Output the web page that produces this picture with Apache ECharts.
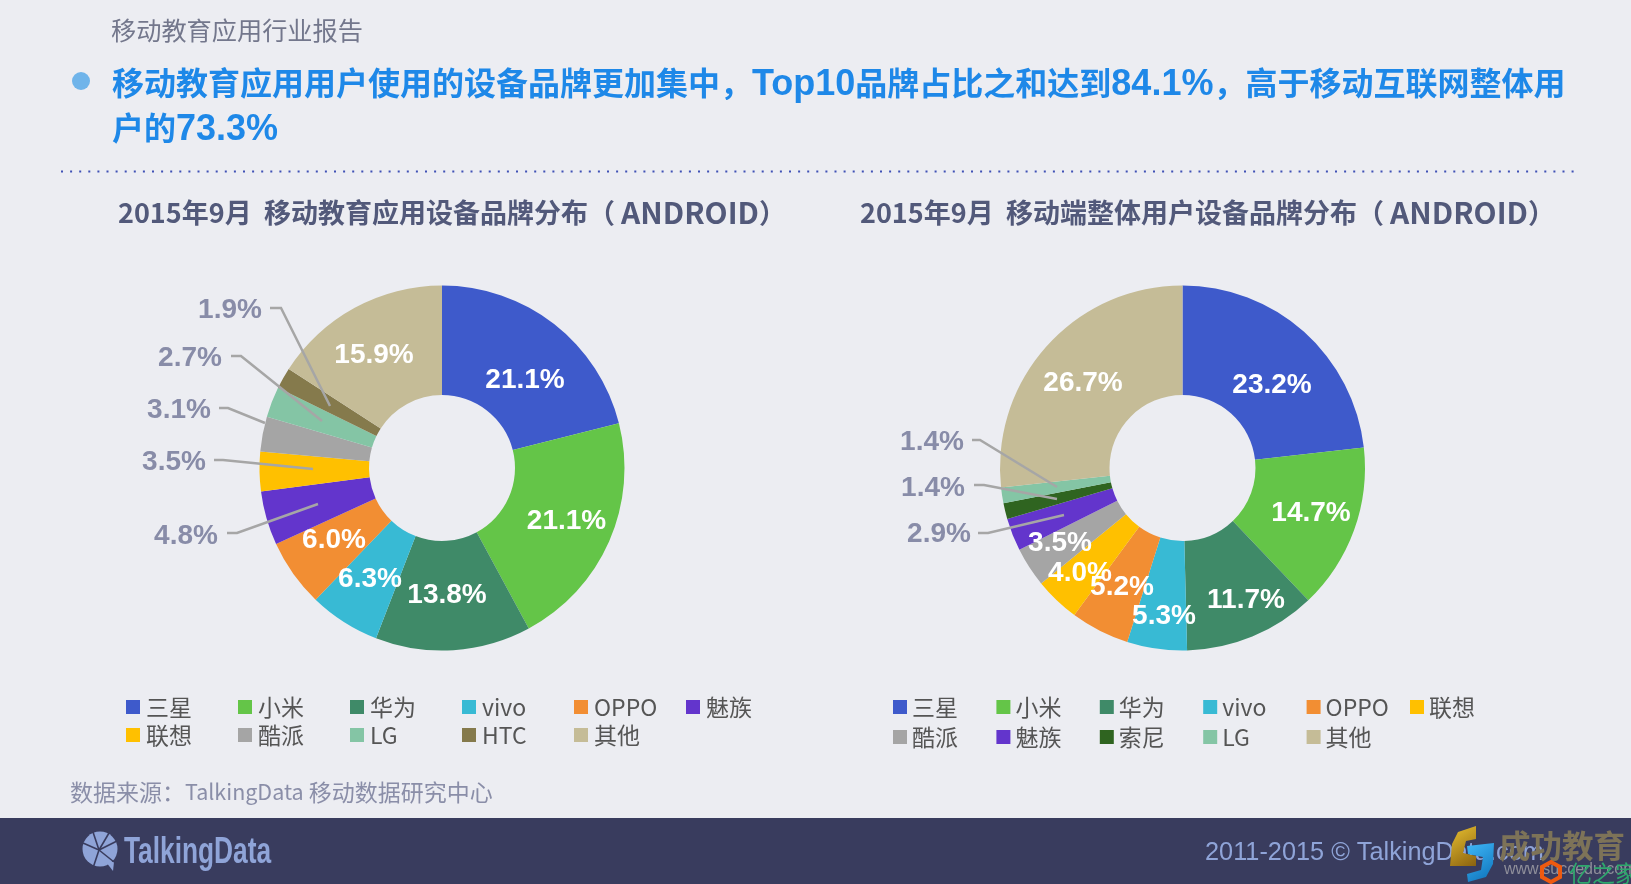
<!DOCTYPE html>
<html><head><meta charset="utf-8">
<style>html,body{margin:0;padding:0;background:#ECEDF2}#c{width:1631px;height:884px}</style>
<script src="https://cdn.jsdelivr.net/npm/echarts@6/dist/echarts.min.js"></script>
</head><body><div id="c"></div>
<script>
// ---- data ----
const reportName = '移动教育应用行业报告';
const headlineLines = ['移动教育应用用户使用的设备品牌更加集中，Top10品牌占比之和达到84.1%，高于移动互联网整体用','户的73.3%'];
const leftTitle = '2015年9月  移动教育应用设备品牌分布（ ANDROID）';
const rightTitle = '2015年9月  移动端整体用户设备品牌分布（ ANDROID）';
const sourceNote = '数据来源：TalkingData 移动数据研究中心';
const leftBrands = ['三星','小米','华为','vivo','OPPO','魅族','联想','酷派','LG','HTC','其他'];
const leftValues = [21.1,21.1,13.8,6.3,6.0,4.8,3.5,3.1,2.7,1.9,15.9];
const rightBrands = ['三星','小米','华为','vivo','OPPO','联想','酷派','魅族','索尼','LG','其他'];
const rightValues = [23.2,14.7,11.7,5.3,5.2,4.0,3.5,2.9,1.4,1.4,26.7];

// ---- styles & layout ----
const brandColor = {'三星':'#3E5ACB','小米':'#64C548','华为':'#3F8A68','vivo':'#38BAD4','OPPO':'#F28E33','魅族':'#6335CC','联想':'#FFC000','酷派':'#A5A5A5','LG':'#84C5A5','HTC':'#857A4C','索尼':'#2F6420','其他':'#C5BC97'};
const CJK = '"Noto Sans CJK SC"';
const LATIN = '"Liberation Sans","Noto Sans CJK SC"';
// label centre [x,y] and optional leader polyline
const leftLabels = [
 [[525,380]],[[566.5,521]],[[447,595]],[[370,579]],[[334,540]],
 [[186,536],[[227,533],[237,533],[318,504]]],
 [[174,462],[[214,460],[223,460],[313,469]]],
 [[179,410],[[219,408],[228,408],[265,423]]],
 [[190,358],[[231,356],[241,356],[322,421]]],
 [[230,310],[[270,308],[281,308],[330,406]]],
 [[374,355]]
];
const rightLabels = [
 [[1272,385]],[[1311,513]],[[1246,600]],[[1164,616]],[[1122,587]],[[1080,573]],[[1060,543]],
 [[939,534],[[978,533],[988,533],[1064,515]]],
 [[933,488],[[974,485],[984,485],[1057,499]]],
 [[932,442],[[972,440],[980,440],[1057,487]]],
 [[1083,383]]
];
function pie(names, values, cx, layout){
  return {
    type:'pie', center:[cx,468], radius:[73,182.5], startAngle:90, silent:true, animation:false,
    avoidLabelOverlap:false,
    data:names.map((n,i)=>({
      name:n, value:values[i],
      itemStyle:{color:brandColor[n]},
      label:{color:layout[i][1]?'#888CA8':'#fff'}
    })),
    labelLine:{show:false},
    label:{show:true,position:'outside',fontFamily:LATIN,fontWeight:'bold',fontSize:28,
      formatter:p=>p.value.toFixed(1)+'%'},
    labelLayout:p=>{
      const l=layout[p.dataIndex];
      return {x:l[0][0],y:l[0][1],align:'center',verticalAlign:'middle'};
    }
  };
}
function legend(names,left,top,w,lineH,pad){
  return {data:names.map(n=>({name:n,icon:'rect'})),left,top,width:690,padding:0,itemWidth:14,itemHeight:14,itemGap:0,
    selectedMode:false,orient:'horizontal',
    textStyle:{fontFamily:CJK,fontSize:23,color:'#555',width:w,lineHeight:lineH,padding:[8,0,0,pad]}};
}
// mixed-script text: Latin runs get their own size
function mixed(text,re){return text.replace(re,m=>'{l|'+m+'}');}
function txt(text,left,cy,size,color,weight,family,latin){
  const lh=Math.round(size*1.4);
  const ts={fontSize:size,color,fontWeight:weight||'normal',fontFamily:family||CJK,lineHeight:lh};
  if(latin)ts.rich={l:{fontSize:latin.size,fontFamily:latin.family,fontWeight:weight||'normal',color,lineHeight:lh,padding:[latin.drop||0,0,0,0]}};
  return {text:latin?mixed(text,latin.re):text,left,top:cy-lh/2,padding:0,textStyle:ts};
}
const FOOT='#393C5E', LOGO='#8FA4D8';
function logoLine(x1,y1,x2,y2){return {type:'line',shape:{x1,y1,x2,y2},style:{stroke:FOOT,lineWidth:1.6},z:12};}
function leaders(layout){
  return layout.filter(l=>l[1]).map(l=>({type:'polyline',z:5,silent:true,shape:{points:l[1]},style:{stroke:'#A6A6A6',lineWidth:2.5,fill:'none'}}));
}
const graphic=[
 {type:'rect',shape:{x:0,y:818,width:1631,height:66},style:{fill:FOOT},z:-1},
 {type:'circle',shape:{cx:81,cy:81,r:9},style:{fill:'#6FB4EA'}},
 {type:'line',shape:{x1:61,y1:171.5,x2:1574,y2:171.5},style:{stroke:'#3F51B5',lineWidth:2,lineDash:[2,7.1]}},
 ...leaders(leftLabels),...leaders(rightLabels),
 {type:'circle',shape:{cx:100,cy:849,r:17.5},style:{fill:LOGO},z:11},
 {type:'polygon',shape:{points:[[106,862],[114,862],[113,871]]},style:{fill:LOGO},z:11},
 logoLine(99,850,93,832),logoLine(99,850,117,841),logoLine(99,850,114,862),logoLine(99,850,93,868),logoLine(99,850,83,843),logoLine(99,850,109,833),
 {type:'text',x:124,y:853,z:11,scaleX:0.73,style:{text:'TalkingData',font:'bold 36px "Liberation Sans"',fill:LOGO,textVerticalAlign:'middle'}},
 {type:'text',x:1205,y:853,z:11,style:{text:'2011-2015 © TalkingData.com',font:'25.3px "Liberation Sans"',fill:LOGO,textVerticalAlign:'middle'}},
 // overlaid watermark
 {type:'polygon',z:13,shape:{points:[[1450,866],[1452,844],[1458,832],[1476,826],[1476,839],[1466,841],[1463,853],[1476,856],[1476,866]]},
  style:{fill:{type:'linear',x:0,y:0,x2:1,y2:1,colorStops:[{offset:0,color:'#E8C030'},{offset:1,color:'#8A6210'}]}}},
 {type:'polygon',z:13,shape:{points:[[1467,846],[1494,843],[1493,864],[1486,877],[1468,882],[1467,874],[1481,870],[1483,857],[1468,854]]},
  style:{fill:{type:'linear',x:0,y:0,x2:1,y2:1,colorStops:[{offset:0,color:'#40B8F8'},{offset:1,color:'#0C70B8'}]}}},
 {type:'text',x:1499,y:846,z:13,style:{text:'成功教育',font:'bold 31.5px "Noto Sans CJK SC"',fill:'#7D7358',textVerticalAlign:'middle'}},
 {type:'text',x:1504,y:870,z:13,style:{text:'www.succedu.com',font:'16px "Liberation Sans"',fill:'#8F8F9A',textVerticalAlign:'middle'}},
 {type:'polygon',z:14,shape:{points:[[1551,862],[1560,867],[1560,877],[1551,882],[1542,877],[1542,867]]},style:{fill:'none',stroke:'#EE5A10',lineWidth:4}},
 {type:'text',x:1569,y:873,z:14,style:{text:'亿之家',font:'23px "Noto Sans CJK SC"',fill:'#2EA86D',textVerticalAlign:'middle'}}
];
const headLatin={size:36,family:'"Liberation Sans"',re:/[A-Za-z0-9.%]+/g,drop:5};
const titleLatin={size:30,family:'"Noto Sans CJK SC"',re:/ANDROID/g};
const srcLatin={size:21.5,family:'"Noto Sans CJK SC"',re:/TalkingData/g};
const option={
  backgroundColor:'#ECEDF2',animation:false,
  title:[
    txt(reportName,111,30,25.2,'#73778C'),
    txt(headlineLines[0],112,83,32,'#1E88E8','bold',CJK,headLatin),
    txt(headlineLines[1],112,128,32,'#1E88E8','bold',CJK,headLatin),
    txt(leftTitle,118,212.5,27,'#52597A','bold',CJK,titleLatin),
    txt(rightTitle,860,212.5,27,'#52597A','bold',CJK,titleLatin),
    txt(sourceNote,70,792,23,'#8A8EA8',null,CJK,srcLatin)
  ],
  legend:[legend(leftBrands,126,693,92,20,1),legend(rightBrands,893,692,84.4,22,0)],
  series:[pie(leftBrands,leftValues,442,leftLabels),pie(rightBrands,rightValues,1182.5,rightLabels)],
  graphic
};
const chart=echarts.init(document.getElementById('c'),null,{renderer:'canvas'});
chart.setOption(option);
</script></body></html>
